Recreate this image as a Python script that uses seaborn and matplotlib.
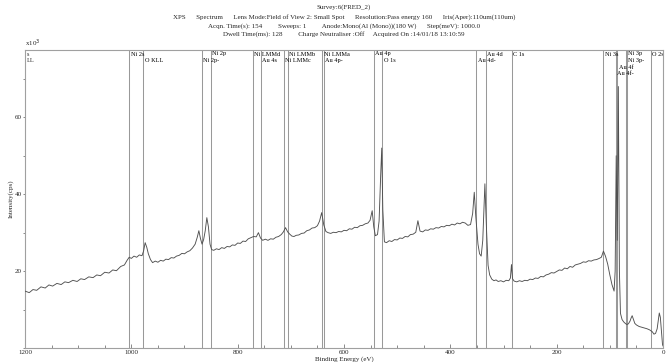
import matplotlib
matplotlib.use("Agg")
import matplotlib.pyplot as plt
import seaborn as sns
import pandas as pd
from matplotlib.ticker import MultipleLocator, FixedLocator, FixedFormatter

# ---------------- data (binding energy eV, intensity x10^3 cps) ----------------
energy = [1200, 1192, 1185, 1178, 1170, 1162, 1155, 1148, 1140, 1132, 1125, 1118, 1110, 1102,
          1095, 1088, 1080, 1072, 1065, 1058, 1050, 1042, 1035, 1028, 1020, 1013, 1008, 1004,
          1000, 995, 990, 985, 980, 977, 974, 971, 968, 964, 960, 955, 950, 945, 940, 935, 930,
          925, 920, 915, 910, 905, 900, 895, 890, 885, 880, 876, 873, 870, 867, 864, 861, 858,
          855, 852, 849, 845, 840, 835, 830, 825, 820, 815, 810, 805, 800, 795, 790, 785, 780,
          775, 770, 765, 761, 757, 753, 748, 743, 738, 733, 728, 723, 718, 714, 710, 706, 702,
          698, 694, 690, 685, 680, 675, 670, 665, 660, 655, 650, 646, 642, 638, 634, 630, 625,
          620, 615, 610, 605, 600, 595, 590, 585, 580, 575, 570, 565, 560, 555, 551, 547, 544,
          541, 537, 534, 531, 529, 527, 524, 520, 515, 510, 505, 500, 495, 490, 485, 480, 475,
          470, 465, 461, 457, 452, 447, 442, 437, 432, 427, 422, 417, 412, 407, 402, 397, 392,
          387, 382, 377, 372, 367, 362, 358, 355, 352, 348, 345, 342, 339, 335, 332, 329, 326,
          322, 318, 314, 310, 305, 300, 295, 290, 287, 285, 283, 280, 275, 270, 265, 260, 255,
          250, 245, 240, 235, 230, 225, 220, 215, 210, 205, 200, 195, 190, 185, 180, 175, 170,
          165, 160, 155, 150, 145, 140, 135, 130, 125, 120, 116, 112, 108, 104, 100, 96, 92, 90,
          88, 86, 84, 82, 80, 77, 74, 71, 68, 65, 62, 60, 58, 56, 53, 50, 45, 40, 35, 30, 25, 20,
          17, 14, 11, 9, 7, 5, 3, 1, 0]
intensity = [14.8, 14.4, 15.2, 15.0, 15.9, 15.6, 16.4, 16.1, 16.8, 16.5, 17.2, 17.0, 17.6, 17.3,
             18.0, 17.8, 18.5, 18.3, 19.0, 18.8, 19.7, 19.5, 20.3, 20.1, 21.2, 21.6, 22.8, 23.6,
             23.3, 23.9, 23.6, 24.2, 24.0, 25.2, 27.4, 26.2, 24.5, 23.0, 22.2, 22.6, 22.3, 22.8,
             22.6, 23.1, 23.0, 23.5, 23.4, 23.9, 24.1, 24.6, 24.5, 25.0, 25.3, 26.0, 27.0, 28.8,
             30.5, 28.5, 27.0, 28.2, 30.5, 33.9, 31.5, 27.0, 25.6, 25.4, 25.8, 25.6, 26.1, 25.9,
             26.4, 26.3, 26.8, 26.7, 27.3, 27.2, 27.8, 27.7, 28.4, 28.7, 29.0, 28.9, 30.0, 28.6,
             28.0, 28.3, 28.0, 28.4, 28.3, 28.8, 29.0, 29.5, 30.2, 31.3, 30.2, 29.6, 29.1, 29.0,
             29.3, 29.4, 29.8, 29.9, 30.5, 30.7, 31.2, 31.3, 31.8, 33.0, 35.2, 32.0, 30.3, 30.0,
             29.8, 30.1, 30.0, 30.3, 30.2, 30.6, 30.5, 31.0, 30.9, 31.4, 31.3, 31.8, 31.9, 32.3,
             32.5, 33.2, 35.7, 31.5, 29.2, 29.5, 33.0, 45.0, 52.0, 36.0, 27.6, 27.4, 27.9, 27.7,
             28.2, 28.1, 28.6, 28.5, 29.0, 28.9, 29.5, 29.6, 30.1, 33.1, 30.4, 30.2, 30.7, 30.6,
             31.0, 30.9, 31.3, 31.2, 31.6, 31.5, 31.9, 31.8, 32.2, 32.0, 32.5, 32.3, 32.7, 32.5,
             31.9, 32.1, 35.0, 40.5, 34.0, 27.0, 24.5, 23.9, 28.0, 42.7, 31.0, 21.5, 19.0, 17.9,
             17.5, 17.7, 17.3, 17.5, 17.2, 17.6, 17.5, 18.2, 21.7, 18.0, 17.4, 17.2, 17.5, 17.3,
             17.6, 17.5, 17.9, 17.8, 18.2, 18.1, 18.6, 18.5, 19.0, 19.2, 19.6, 19.5, 19.9, 20.3,
             20.2, 20.8, 20.6, 21.2, 21.0, 21.6, 21.8, 22.0, 22.4, 22.3, 22.7, 22.6, 22.9, 23.0,
             23.3, 23.6, 25.2, 23.8, 21.8, 19.0, 16.5, 14.8, 20.0, 50.0, 28.0, 68.0, 20.0, 9.0,
             7.4, 6.8, 6.4, 6.1, 6.3, 7.0, 7.8, 8.4, 7.6, 6.4, 6.0, 5.6, 5.4, 5.2, 5.0, 4.7, 4.2,
             3.6, 3.8, 5.0, 7.0, 9.1, 8.0, 4.5, 1.0, 0.5]

# peak-marker annotations
marker_energy = [1004, 978, 867.6, 850.7, 771.3, 756.8, 713.0, 705.5, 641.0, 638.0, 544.0, 528.3,
                 351.2, 333.7, 284.1, 112.1, 88.8, 85.8, 69.5, 68.3, 23.1]
marker_label = ["Ni 2s", "O KLL", "Ni 2p-", "Ni 2p", "Ni LMMd", "Au 4s", "Ni LMMc", "Ni LMMb",
                "Ni LMMa", "Au 4p-", "Au 4p", "O 1s", "Au 4d-", "Au 4d", "C 1s", "Ni 3s",
                "Au 4f-", "Au 4f", "Ni 3p", "Ni 3p-", "O 2s"]
marker_row = [0, 1, 1, 0, 0, 1, 1, 0, 0, 1, 0, 1, 1, 0, 0, 0, 3, 2, 0, 1, 0]

x_major = [1200, 1000, 800, 600, 400, 200, 0]
x_major_labels = ["1200", "1000", "800", "600", "400", "200", "0"]
y_major = [20, 40, 60]
y_major_labels = ["20", "40", "60"]

title_lines = [
    "Survey:6(FRED_2)",
    "XPS      Spectrum      Lens Mode:Field of View 2: Small Spot      Resolution:Pass energy 160      Iris(Aper):110um(110um)",
    "Acqn. Time(s): 154         Sweeps: 1         Anode:Mono(Al (Mono))(180 W)      Step(meV): 1000.0",
    "Dwell Time(ms): 128         Charge Neutraliser :Off     Acquired On :14/01/18 13:10:59",
]

# ---------------- plot ----------------
sns.set_style("white")
plt.rcParams["font.family"] = ["Liberation Serif", "DejaVu Serif"]

W, H = 667, 362
fig = plt.figure(figsize=(W / 100, H / 100), dpi=100)
ax_l, ax_r, ax_t, ax_b = 25, 663, 50, 348
ax = fig.add_axes([ax_l / W, 1 - ax_b / H, (ax_r - ax_l) / W, (ax_b - ax_t) / H])

df = pd.DataFrame({"energy": energy, "intensity": intensity})

for e in marker_energy:
    ax.axvline(e, color="#999999", lw=0.75, zorder=1)

sns.lineplot(data=df, x="energy", y="intensity", ax=ax, color="#505050", lw=0.65,
             estimator=None, zorder=3)

for e, lab, r in zip(marker_energy, marker_label, marker_row):
    ax.annotate(lab, xy=(e, 1.0), xycoords=("data", "axes fraction"),
                xytext=(1.5, -4 - 6.6 * r), textcoords="offset pixels",
                ha="left", va="center", fontsize=4.5, color="black", zorder=2)
# clipped fragments of labels beyond the left edge
ax.annotate("s", xy=(1200, 1.0), xycoords=("data", "axes fraction"), xytext=(1.5, -4),
            textcoords="offset pixels", ha="left", va="center", fontsize=4.5)
ax.annotate("LL", xy=(1200, 1.0), xycoords=("data", "axes fraction"), xytext=(1.5, -10.6),
            textcoords="offset pixels", ha="left", va="center", fontsize=4.5)

ax.set_xlim(1200, 0)
ax.set_ylim(0, 77.5)

ax.xaxis.set_major_locator(FixedLocator(x_major))
ax.xaxis.set_major_formatter(FixedFormatter(x_major_labels))
ax.xaxis.set_minor_locator(MultipleLocator(50))
ax.yaxis.set_major_locator(FixedLocator(y_major))
ax.yaxis.set_major_formatter(FixedFormatter(y_major_labels))
ax.yaxis.set_minor_locator(MultipleLocator(10))

ax.tick_params(axis="x", which="both", direction="in", length=2.5, width=0.6, color="#777",
               labelsize=5, pad=1.5, bottom=True)
ax.tick_params(axis="x", which="major", length=3)
ax.tick_params(axis="y", which="both", direction="out", length=1.5, width=0.6, color="#777",
               labelsize=5, pad=1, left=True)

for s in ax.spines.values():
    s.set_color("#a0a0a0")
    s.set_linewidth(0.8)

ax.set_xlabel("Binding Energy (eV)", fontsize=5, labelpad=0.5)
ax.set_ylabel("Intensity(cps)", fontsize=5, labelpad=0.5)
ax.text(0.0, 1.004, r"x10$^3$", transform=ax.transAxes, ha="left", va="bottom", fontsize=5)

cx = ((ax_l + ax_r) / 2) / W
ys = [7, 17, 26, 34]
for line, yp in zip(title_lines, ys):
    fig.text(cx, 1 - yp / H, line, ha="center", va="center", fontsize=5)

fig.savefig("out.png", dpi=100)
